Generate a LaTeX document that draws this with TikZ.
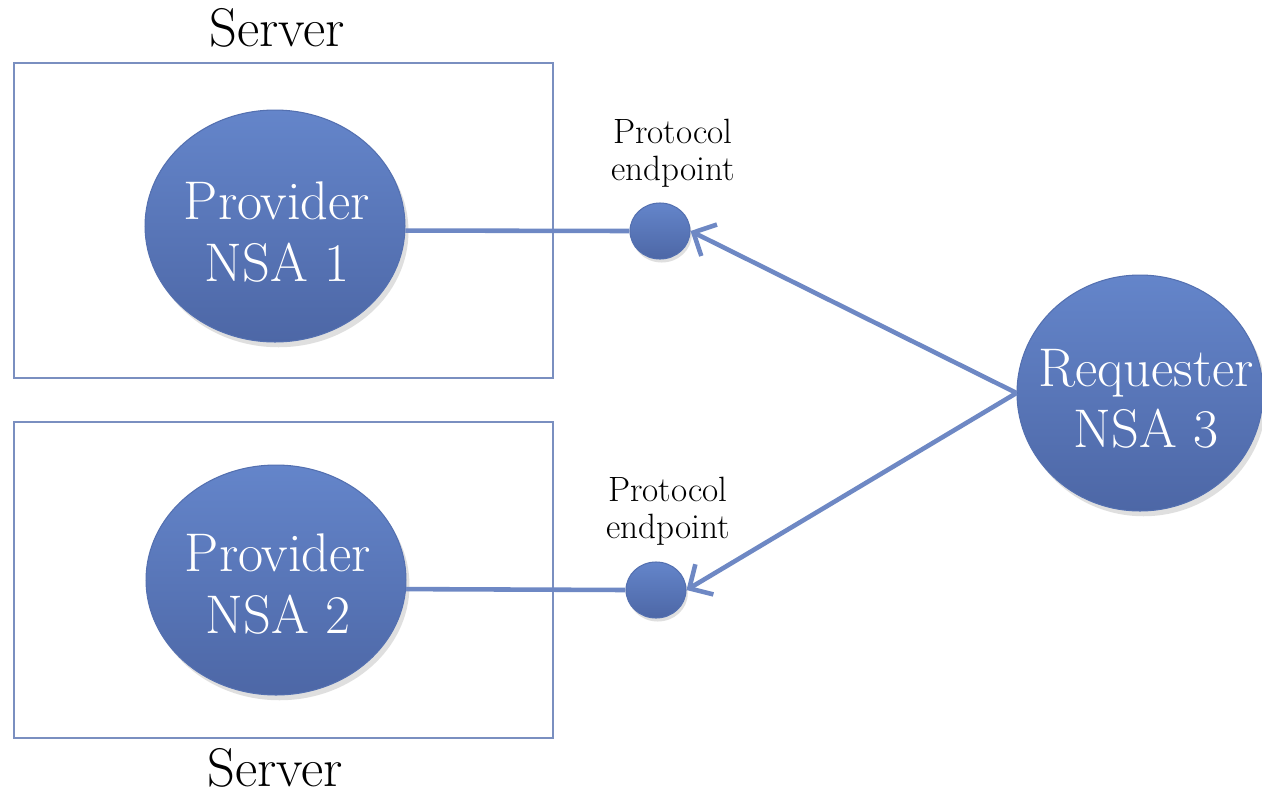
\documentclass[tikz,border=0pt]{standalone}
\usetikzlibrary{shapes.geometric,arrows.meta,shadows}
\definecolor{nodetop}{HTML}{6485CA}
\definecolor{nodebot}{HTML}{4D67A6}
\definecolor{nodeedge}{HTML}{5470B0}
\definecolor{linecol}{HTML}{6E88C4}
\definecolor{boxcol}{HTML}{7A8FC0}
\tikzset{
  nsa/.style={ellipse, draw=nodeedge, line width=0.6pt, top color=nodetop, bottom color=nodebot,
    inner sep=0pt,
    drop shadow={shadow xshift=2pt, shadow yshift=-3pt, opacity=0.25}},
  nsatext/.style={text=white, align=center, inner sep=0pt, font=\fontsize{31}{35}\selectfont},
  endpt/.style={ellipse, draw=nodeedge, line width=0.6pt, top color=nodetop, bottom color=nodebot,
    inner sep=0pt, minimum width=1.2cm, minimum height=1.12cm,
    drop shadow={shadow xshift=1pt, shadow yshift=-2pt, opacity=0.25}},
  serverbox/.style={draw=boxcol, line width=1pt},
  conn/.style={draw=linecol, line width=2.6pt},
  arr/.style={conn, -{Straight Barb[length=10pt, width=20pt, line width=2.6pt]}},
  lbl/.style={font=\fontsize{31}{35}\selectfont},
  eplbl/.style={align=center, font=\fontsize{20}{21}\selectfont}
}
\begin{document}
\begin{tikzpicture}[x=0.02cm, y=-0.02cm]
\useasboundingbox (0,0) rectangle (1262,795);
\fill[white] (0,0) rectangle (1262,795);
\draw[serverbox] (14,63) rectangle (553,378);
\draw[serverbox] (14,422) rectangle (553,738);
\node[lbl] (s1) at (277,28) {Server};
\node[lbl] (s2) at (275,768) {Server};
\node[nsa, minimum width=5.2cm, minimum height=4.64cm] (p1) at (275,226) {};
\node[nsa, minimum width=5.2cm, minimum height=4.6cm] (p2) at (276,580) {};
\node[nsa, minimum width=4.92cm, minimum height=4.72cm] (req) at (1140,393) {};
\node[nsatext] (p1t) at (277,232) {Provider\\NSA 1};
\node[nsatext] (p2t) at (278,584) {Provider\\NSA 2};
\node[nsatext] (reqt) at (1146,399) {Requester\\NSA 3};
\node[endpt] (e1) at (660,231) {};
\node[endpt] (e2) at (656,590) {};
\node[eplbl] (l1) at (673,153) {Protocol\\endpoint};
\node[eplbl] (l2) at (668,511) {Protocol\\endpoint};
\draw[conn] (p1.-2) -- (e1.west);
\draw[conn] (p2.-4) -- (e2.west);
\draw[arr] (req.west) -- (e1.east);
\draw[arr] (req.west) -- (e2.east);
\end{tikzpicture}
\end{document}
